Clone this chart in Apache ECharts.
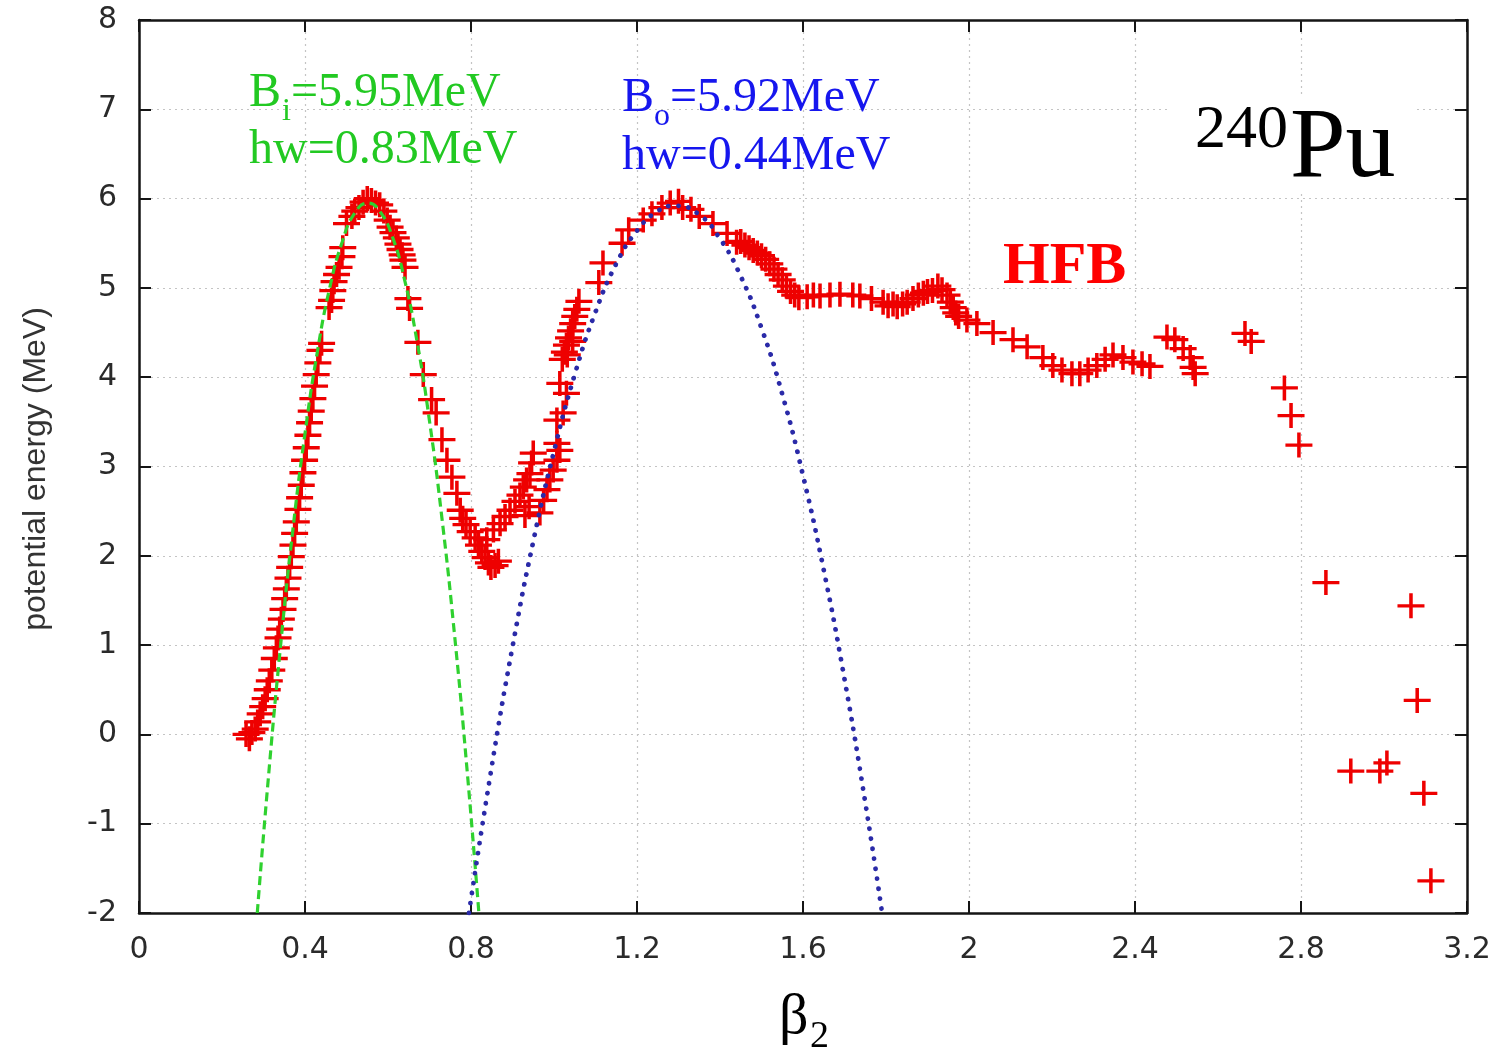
<!DOCTYPE html>
<html>
<head>
<meta charset="utf-8">
<style>
  html, body { margin: 0; padding: 0; background: #fff; }
  #chart { width: 1504px; height: 1050px; }
</style>
<script src="https://cdn.jsdelivr.net/npm/echarts@6/dist/echarts.min.js"></script>
</head>
<body>
<div id="chart"></div>
<script>
// ---------- data ----------
const xTicks = { min: 0, max: 3.2, step: 0.4 };
const yTicks = { min: -2, max: 8, step: 1 };

// HFB points [beta2, energy MeV]
const hfbFirstBarrierLeft = [
  [0.258,0.00],[0.266,-0.05],[0.272,0.02],[0.280,0.06],[0.286,0.14],[0.292,0.23],[0.298,0.31],
  [0.304,0.40],[0.309,0.50],[0.314,0.60],[0.320,0.72],[0.326,0.85],[0.331,0.97],[0.335,1.08],
  [0.339,1.18],[0.343,1.29],[0.347,1.40],[0.351,1.52],[0.355,1.63],[0.359,1.75],[0.363,1.87],
  [0.367,1.99],[0.371,2.12],[0.375,2.25],[0.379,2.38],[0.383,2.52],[0.387,2.65],[0.391,2.79],
  [0.395,2.93],[0.399,3.07],[0.403,3.21],[0.407,3.35],[0.411,3.49],[0.415,3.62],[0.419,3.76],
  [0.423,3.90],[0.427,4.03],[0.431,4.16],[0.436,4.30],[0.440,4.38],
  [0.458,4.78],[0.464,4.86],[0.467,4.97],[0.470,5.07],[0.476,5.15],[0.482,5.23],[0.489,5.35],
  [0.491,5.45],[0.500,5.72],[0.513,5.80],[0.520,5.86],[0.530,5.90],[0.540,5.96],[0.550,6.00],
  [0.560,5.98],[0.570,5.95]
];
const hfbFirstBarrierRight = [
  [0.580,5.93],[0.590,5.86],[0.598,5.76],[0.605,5.68],[0.612,5.62],[0.620,5.56],[0.624,5.49],
  [0.629,5.43],[0.634,5.37],[0.636,5.31],[0.641,5.23],[0.648,4.88],[0.652,4.77],[0.672,4.39],
  [0.685,4.03],[0.705,3.75],[0.716,3.60],[0.730,3.30],[0.742,3.07],[0.754,2.88],[0.766,2.70],
  [0.774,2.51],[0.780,2.42],[0.788,2.35],[0.798,2.27],[0.810,2.20],[0.818,2.12],[0.826,2.05],
  [0.834,1.98],[0.842,1.92],[0.848,1.87],[0.858,1.89],[0.866,1.94]
];
const hfbSecondWell = [
  [0.838,2.18],[0.854,2.29],[0.870,2.36],[0.882,2.44],[0.894,2.51],[0.906,2.61],[0.918,2.68],
  [0.926,2.77],[0.934,2.85],[0.942,2.92],[0.946,3.04],[0.950,3.15],[0.930,2.45],[0.940,2.55],
  [0.966,2.48],[0.975,2.62],[0.983,2.74],[0.990,2.85],[0.998,2.96],[1.007,3.07],[1.014,3.18],
  [1.007,3.26],[1.007,3.52],[1.022,3.60],[1.014,3.93],[1.030,3.82],[1.020,4.20],[1.025,4.28],
  [1.030,4.36],[1.035,4.44],[1.040,4.52],[1.045,4.60],[1.050,4.68],[1.055,4.76],[1.032,4.25],
  [1.045,4.40],[1.060,4.85]
];
const hfbSecondBarrier = [
  [1.108,5.06],[1.118,5.28],[1.164,5.50],[1.180,5.65],[1.215,5.76],[1.236,5.83],[1.260,5.90],
  [1.280,5.95],[1.300,5.97],[1.310,5.90],[1.330,5.88],[1.350,5.80],[1.383,5.72],[1.417,5.61],
  [1.440,5.51],[1.450,5.52],[1.460,5.48],[1.470,5.45],[1.480,5.42],[1.490,5.39],[1.500,5.36],
  [1.510,5.32],[1.520,5.27],[1.530,5.21],[1.540,5.15],[1.550,5.09],[1.560,5.02],[1.570,4.96],
  [1.580,4.92],[1.590,4.89]
];
const hfbPlateau = [
  [1.610,4.90],[1.625,4.92],[1.641,4.91],[1.665,4.92],[1.689,4.93],[1.720,4.92],[1.737,4.91],
  [1.765,4.88],[1.793,4.84],[1.805,4.80],[1.817,4.82],[1.827,4.79],[1.840,4.82],[1.851,4.84],
  [1.865,4.88],[1.878,4.92],[1.890,4.94],[1.900,4.96],[1.912,4.97],[1.925,5.02],[1.935,4.98],
  [1.947,4.92],[1.955,4.84],[1.962,4.78],[1.968,4.72],[1.975,4.68],[1.995,4.64],[2.019,4.60],
  [2.058,4.50],[2.106,4.42],[2.140,4.34],[2.178,4.22],[2.202,4.13],[2.224,4.08],[2.248,4.04],
  [2.267,4.04],[2.287,4.08],[2.308,4.13],[2.328,4.20],[2.347,4.25],[2.371,4.22],[2.395,4.17],
  [2.417,4.15],[2.436,4.12],[2.477,4.45],[2.496,4.42],[2.516,4.32],[2.533,4.22],[2.540,4.11],
  [2.545,4.04]
];
const hfbTail = [
  [2.665,4.49],[2.680,4.40],[2.760,3.88],[2.776,3.57],[2.795,3.24],[2.860,1.70],[3.065,1.44],
  [3.080,0.38],[2.920,-0.41],[2.990,-0.41],[3.007,-0.32],[3.096,-0.66],[3.113,-1.64]
];

// inner barrier parabola fit (green dashed)
const innerFit = [
  [0.285,-2.00],[0.310,-0.58],[0.340,0.94],[0.370,2.26],[0.400,3.37],[0.430,4.29],[0.460,5.01],
  [0.490,5.52],[0.520,5.84],[0.552,5.95],[0.580,5.86],[0.610,5.58],[0.640,5.09],[0.670,4.40],
  [0.700,3.51],[0.730,2.42],[0.760,1.13],[0.790,-0.37],[0.819,-2.00]
];
// outer barrier parabola fit (blue dotted)
const outerFit = [
  [0.795,-2.00],[0.850,-0.36],[0.900,0.98],[0.950,2.16],[1.000,3.17],[1.050,4.03],[1.100,4.73],
  [1.150,5.27],[1.200,5.64],[1.250,5.86],[1.293,5.92],[1.350,5.82],[1.400,5.55],[1.450,5.13],
  [1.500,4.55],[1.550,3.81],[1.600,2.90],[1.650,1.84],[1.700,0.62],[1.750,-0.76],[1.790,-1.98]
];

const hfbAll = [].concat(hfbFirstBarrierLeft, hfbFirstBarrierRight, hfbSecondWell,
                         hfbSecondBarrier, hfbPlateau, hfbTail);

// ---------- chart ----------
const chart = echarts.init(document.getElementById('chart'), null, { renderer: 'canvas' });
const frame = '#151515';
const plusPath = 'path://M11.3,0 H14.7 V11.3 H26 V14.7 H14.7 V26 H11.3 V14.7 H0 V11.3 H11.3 Z';
const fmt = v => String(+v.toFixed(1));

function xAx(pos, labels) {
  return {
    type: 'value', position: pos, min: xTicks.min, max: xTicks.max, interval: xTicks.step,
    axisLine: { show: true, onZero: false, lineStyle: { color: frame, width: 2.5 } },
    axisTick: { show: true, inside: true, length: 12, lineStyle: { color: frame, width: 2 } },
    axisLabel: { show: labels, formatter: fmt, fontFamily: 'DejaVu Sans', fontSize: 30,
                 color: '#2a2a2a', margin: 22 },
    splitLine: { show: labels, lineStyle: { type: [2, 4], color: '#c4c4c4', width: 1.2 } }
  };
}
function yAx(pos, labels) {
  return {
    type: 'value', position: pos, min: yTicks.min, max: yTicks.max, interval: yTicks.step,
    axisLine: { show: true, onZero: false, lineStyle: { color: frame, width: 2.5 } },
    axisTick: { show: true, inside: true, length: 12, lineStyle: { color: frame, width: 2 } },
    axisLabel: { show: labels, formatter: fmt, fontFamily: 'DejaVu Sans', fontSize: 30,
                 color: '#2a2a2a', margin: 22 },
    splitLine: { show: labels, lineStyle: { type: [2, 4], color: '#c4c4c4', width: 1.2 } }
  };
}

const serif = '"Liberation Serif", "Times New Roman", serif';
function txt(text, x, y, size, color, extra) {
  return Object.assign({
    type: 'text', z: 20,
    style: { text: text, x: x, y: y, fill: color,
             font: (extra && extra.bold ? 'bold ' : '') + size + 'px ' + serif,
             textAlign: 'left', textVerticalAlign: 'middle' }
  }, extra && extra.el ? extra.el : {});
}

chart.setOption({
  animation: false,
  backgroundColor: '#fff',
  grid: { left: 139, top: 20, right: 37, bottom: 137, containLabel: false },
  xAxis: [xAx('bottom', true), xAx('top', false)],
  yAxis: [yAx('left', true), yAx('right', false)],
  series: [
    {
      name: 'HFB', type: 'scatter', xAxisIndex: 0, yAxisIndex: 0, z: 2,
      symbol: plusPath, symbolSize: [27, 25], symbolKeepAspect: false,
      itemStyle: { color: '#ee0000', opacity: 1 },
      data: hfbAll
    },
    {
      name: 'inner', type: 'line', xAxisIndex: 0, yAxisIndex: 0, z: 3,
      smooth: true, showSymbol: false, symbol: 'none',
      lineStyle: { color: '#2fd12f', width: 3.2, type: [9, 5] },
      data: innerFit
    },
    {
      name: 'outer', type: 'line', xAxisIndex: 0, yAxisIndex: 0, z: 3,
      smooth: true, showSymbol: false, symbol: 'none',
      lineStyle: { color: '#2a2aa8', width: 4.8, type: [0.1, 10], cap: 'round' },
      data: outerFit
    }
  ],
  graphic: [
    { type: 'rect', z: 15, shape: { x: 1170, y: 95, width: 245, height: 97 },
      style: { fill: '#ffffff' } },
    // inner barrier annotation
    txt('B', 249, 93, 48, '#22c922'),
    txt('i', 282, 112, 32, '#22c922'),
    txt('=5.95MeV', 291, 93, 48, '#22c922'),
    txt('hw=0.83MeV', 249, 150, 48, '#22c922'),
    // outer barrier annotation
    txt('B', 622, 98, 48, '#1616ee'),
    txt('o', 654, 117, 32, '#1616ee'),
    txt('=5.92MeV', 670, 98, 48, '#1616ee'),
    txt('hw=0.44MeV', 622, 156, 48, '#1616ee'),
    // nucleus
    txt('240', 1195, 131, 62, '#000'),
    txt('Pu', 1290, 150, 100, '#000'),
    // method
    txt('HFB', 1003, 267, 60, '#ff0000', { bold: true }),
    // x-axis title
    txt('β', 779, 1018, 58, '#000'),
    txt('2', 810, 1037, 38, '#000'),
    // y-axis title
    { type: 'text', z: 20, x: 36, y: 469, rotation: Math.PI / 2,
      style: { text: 'potential energy (MeV)', x: 0, y: 0, fill: '#333',
               font: '32px "Liberation Sans", Arial, sans-serif',
               textAlign: 'center', textVerticalAlign: 'middle' } }
  ]
});
</script>
</body>
</html>
